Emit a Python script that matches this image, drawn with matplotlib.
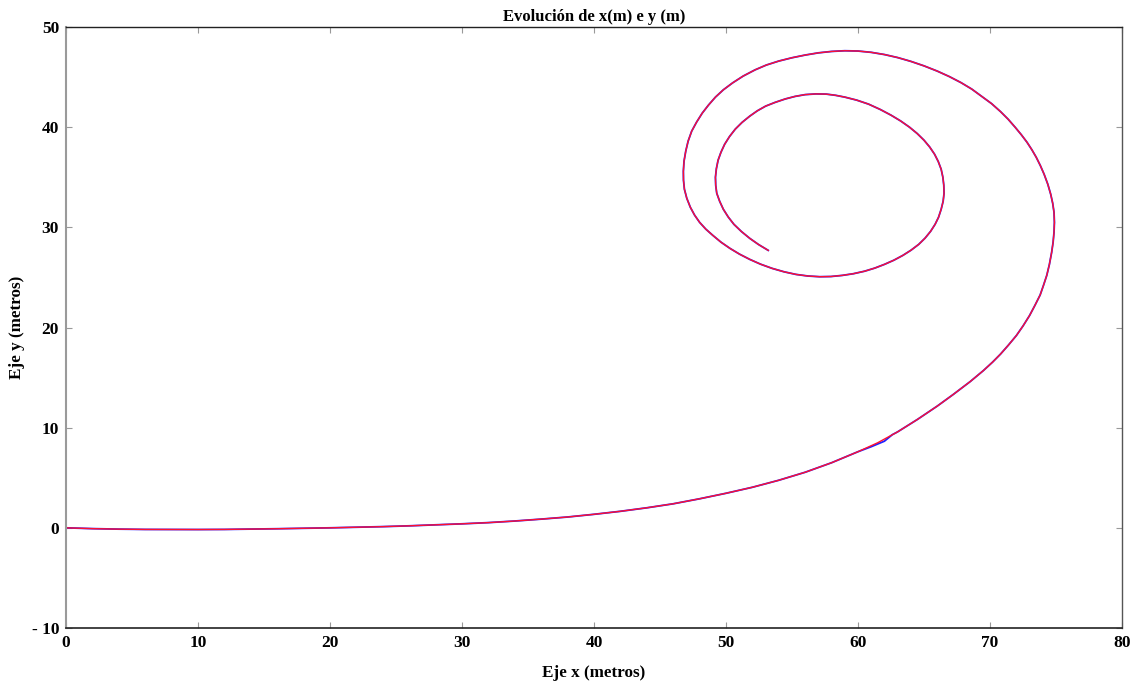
import matplotlib
matplotlib.use("Agg")
import matplotlib.pyplot as plt

# trayectoria (x, y) en metros
x_red = [0, 2, 4, 6, 8, 10, 12, 14, 16, 18, 20, 22, 24, 26, 28, 30, 32, 34, 36, 38,
         40, 42, 44, 46, 48, 50, 52, 54, 56, 58, 60, 61.5, 63, 64.5, 66, 67.2, 68.5,
         69.5, 70.2, 70.8, 71.4, 72, 72.5, 73, 73.4, 73.8, 74.05, 74.3, 74.5, 74.67,
         74.78, 74.85, 74.88, 74.85, 74.75,
         74.6, 74.38, 74.1, 73.82, 73.5, 73.17, 72.8, 72.37, 71.9, 71.37, 70.8, 70.12,
         69.4, 68.62, 67.8, 66.92, 66.0, 65.0, 64.0, 63.0, 62.0, 61.0, 60.0, 59.0,
         58.0, 57.0, 56.0, 55.0, 54.0, 53.05, 52.2, 51.3, 50.5, 49.8, 49.2, 48.67,
         48.2, 47.77, 47.4, 47.13, 46.95, 46.82, 46.77, 46.78, 46.85, 47.03, 47.3,
         47.62, 48.0, 48.47, 49.0, 49.62, 50.3, 51.03, 51.8, 52.62, 53.5, 54.4, 55.3,
         56.2, 57.1, 57.95, 58.8, 59.65, 60.5, 61.27, 62.0, 62.72, 63.4, 64.02, 64.6,
         65.08, 65.5, 65.84, 66.1, 66.3, 66.45, 66.52, 66.5, 66.43, 66.3, 66.08, 65.8,
         65.43, 65.0, 64.48, 63.9, 63.23, 62.5, 61.68, 60.8, 59.9, 59.0, 58.3, 57.6,
         56.8, 56.0, 55.23, 54.5, 53.73, 53.0, 52.37, 51.8, 51.22, 50.7, 50.27, 49.9,
         49.62, 49.4, 49.27, 49.2, 49.22, 49.3, 49.52, 49.8, 50.17, 50.6, 51.17, 51.8,
         52.47, 53.2]
y_red = [0, -0.08, -0.13, -0.16, -0.17, -0.17, -0.16, -0.13, -0.09, -0.05, 0.0, 0.06,
         0.12, 0.2, 0.3, 0.4, 0.52, 0.68, 0.87, 1.08, 1.35, 1.65, 2.0, 2.4, 2.9, 3.45,
         4.05, 4.75, 5.55, 6.5, 7.6, 8.5, 9.58, 10.82, 12.15, 13.3, 14.6, 15.7,
         16.55, 17.35, 18.25, 19.2, 20.15, 21.2, 22.2, 23.25, 24.2, 25.2, 26.3, 27.5,
         28.5, 29.5, 30.5, 31.5, 32.4, 33.3, 34.3, 35.3,
         36.15, 37.0, 37.75, 38.5, 39.25, 40.0, 40.8, 41.55, 42.35, 43.05, 43.8, 44.45,
         45.05, 45.6, 46.12, 46.57, 46.95, 47.25, 47.47, 47.6, 47.63, 47.56, 47.42,
         47.2, 46.93, 46.6, 46.2, 45.72, 45.1, 44.42, 43.73, 43.0, 42.2, 41.4, 40.5,
         39.6, 38.6, 37.6, 36.6, 35.6, 34.7, 33.8, 32.9, 32.0, 31.22, 30.5, 29.82,
         29.2, 28.52, 27.9, 27.32, 26.8, 26.32, 25.9, 25.56, 25.3, 25.14, 25.07, 25.09,
         25.2, 25.37, 25.62, 25.93, 26.3, 26.72, 27.2, 27.72, 28.3, 28.92, 29.6, 30.3,
         31.0, 31.8, 32.6, 33.4, 34.2, 35.0, 35.8, 36.57, 37.3, 38.02, 38.7, 39.37,
         40.0, 40.62, 41.2, 41.77, 42.3, 42.7, 43.0, 43.18, 43.3, 43.32, 43.25, 43.07,
         42.82, 42.48, 42.1, 41.63, 41.1, 40.48, 39.8, 39.07, 38.3, 37.5, 36.7, 35.85,
         35.0, 34.2, 33.4, 32.6, 31.8, 31.03, 30.3, 29.58, 28.9, 28.28, 27.7]

# segunda curva: igual salvo un pequeño salto cerca de x = 62
x_blue = x_red[:31] + [61.0, 62.0, 62.6] + x_red[32:]
y_blue = y_red[:31] + [8.1, 8.65, 9.3] + y_red[32:]

x_ticks = [0, 10, 20, 30, 40, 50, 60, 70, 80]
y_ticks = [-10, 0, 10, 20, 30, 40, 50]
y_tick_labels = ["- 10", "0", "10", "20", "30", "40", "50"]

plt.rcParams["font.family"] = ["Liberation Serif", "DejaVu Serif"]
plt.rcParams["font.weight"] = "bold"

fig = plt.figure(figsize=(11.37, 6.86), dpi=100)
ax = fig.add_axes([66 / 1137, 1 - 628 / 686, (1122 - 66) / 1137, (628 - 27) / 686])

ax.plot(x_blue, y_blue, color="#2020ff", lw=1.3, solid_joinstyle="round")
ax.plot(x_red, y_red, color="#ff1030", lw=1.0, solid_joinstyle="round")

ax.set_xlim(0, 80)
ax.set_ylim(-10, 50)
ax.set_xticks(x_ticks)
ax.set_yticks(y_ticks)
ax.set_yticklabels(y_tick_labels)
ax.tick_params(direction="in", length=4, width=0.8, color="#999999",
               top=True, right=True, labelsize=12.5, pad=5)
for lab in ax.get_xticklabels() + ax.get_yticklabels():
    lab.set_fontweight("bold")

ax.spines["left"].set_color("#9a9a9a")
ax.spines["left"].set_linewidth(1.5)
ax.spines["bottom"].set_color("#222222")
ax.spines["bottom"].set_linewidth(1.2)
ax.spines["top"].set_color("#222222")
ax.spines["top"].set_linewidth(1.0)
ax.spines["right"].set_color("#555555")
ax.spines["right"].set_linewidth(1.0)

ax.set_title("Evolución de x(m) e y (m)", fontsize=12, fontweight="bold", pad=4)
ax.set_xlabel("Eje x (metros)", fontsize=12.3, fontweight="bold", labelpad=10)
ax.set_ylabel("Eje y (metros)", fontsize=12.3, fontweight="bold", labelpad=5)

fig.savefig("out.png", dpi=100)
